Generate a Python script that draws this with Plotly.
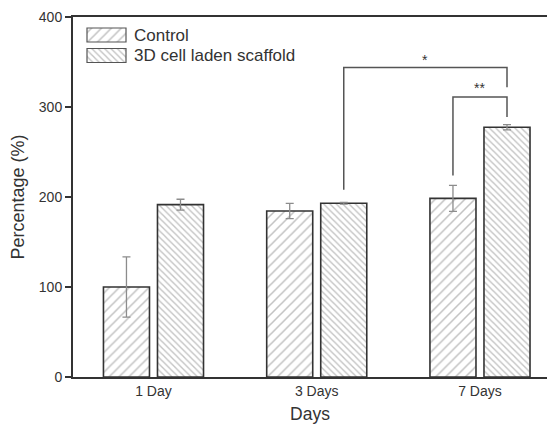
import plotly.graph_objects as go

# ---- data ----
categories = ["1 Day", "3 Days", "7 Days"]
series_names = ["Control", "3D cell laden scaffold"]
control_values = [100, 184.5, 198.5]
control_errors = [33.5, 8.5, 14.5]
scaffold_values = [191.5, 193, 277.5]
scaffold_errors = [6, 1, 3]
y_ticks = [0, 100, 200, 300, 400]

# significance brackets: (left category idx, left series idx, right category idx, right series idx,
#                         left foot, top, right foot, label, label y)
brackets = [
    (1, 1, 2, 1, 208, 344, 322, "*", 352),
    (2, 0, 2, 1, 224, 311, 289, "**", 321),
]

# ---- style ----
FONT = "Liberation Sans, Arial, sans-serif"
TXT = "#333333"
EDGE = "#333333"
HATCH = "#858585"
# page body has an 8px margin on every side, so the figure is 16px smaller to fit the window
W, H = 539, 416
ML, MR, MT, MB = 65, 0, 9, 47
BAR_W = 0.282
INNER_GAP = 0.049
SLOT = BAR_W + INNER_GAP
OFFS = [-SLOT / 2, SLOT / 2]
patterns = [dict(shape="/", size=7, solidity=0.22, fgcolor=HATCH, bgcolor="white"),
            dict(shape="\\", size=4.5, solidity=0.3, fgcolor=HATCH, bgcolor="white")]

x_idx = list(range(len(categories)))
fig = go.Figure()
for name, vals, errs, pat in zip(series_names, [control_values, scaffold_values],
                                 [control_errors, scaffold_errors], patterns):
    fig.add_trace(go.Bar(
        x=x_idx, y=vals, name=name, showlegend=False,
        marker=dict(color="white", pattern=pat, line=dict(color=EDGE, width=1.6)),
        error_y=dict(type="data", array=errs, color="#8c8c8c", thickness=1.3, width=4),
    ))

fig.update_layout(barmode="group", bargap=1 - 2 * SLOT, bargroupgap=INNER_GAP / SLOT)

# brackets
for (c1, s1, c2, s2, f1, top, f2, lab, ly) in brackets:
    x1 = c1 + OFFS[s1]
    x2 = c2 + OFFS[s2]
    fig.add_shape(type="path", xref="x", yref="y",
                  path=f"M{x1},{f1} L{x1},{top} L{x2},{top} L{x2},{f2}",
                  line=dict(color="#555555", width=1.5))
    fig.add_annotation(x=(x1 + x2) / 2, y=ly, xref="x", yref="y", text=lab,
                       showarrow=False, font=dict(family=FONT, size=14, color=TXT))

# custom legend on an overlay pixel axis
PW = W - ML - MR
PH = H - MT - MB
leg_rows = [18, 38.5]
for name, pat, ry in zip(series_names, patterns, leg_rows):
    fig.add_trace(go.Bar(
        x=[39], base=[14], y=[ry], orientation="h", width=14, xaxis="x2", yaxis="y2",
        showlegend=False, hoverinfo="skip",
        marker=dict(color="white", pattern=pat, line=dict(color="#555555", width=1.2)),
    ))
    fig.add_annotation(x=59, y=ry, xref="x2", yref="y2", text=name, showarrow=False,
                       xanchor="left", yanchor="middle",
                       font=dict(family=FONT, size=17, color=TXT))

x_left = -0.493
x_right = x_left + PW / 163.25

fig.update_layout(
    width=W, height=H,
    margin=dict(l=ML, r=MR, t=MT, b=MB, pad=0, autoexpand=False),
    plot_bgcolor="white", paper_bgcolor="white",
    font=dict(family=FONT, color=TXT),
    xaxis=dict(range=[x_left, x_right], tickvals=x_idx, ticktext=categories,
               showline=True, linecolor="#333333", linewidth=2, mirror=True,
               ticks="", showgrid=False, zeroline=False, automargin=False,
               tickfont=dict(size=14, color=TXT),
               title=dict(text="Days", font=dict(size=17.5, color=TXT), standoff=15)),
    yaxis=dict(range=[0, 400], tickvals=y_ticks, showline=True, linecolor="#333333",
               linewidth=2, ticks="outside", ticklen=6, tickwidth=1.5, tickcolor="#333333",
               showgrid=False, zeroline=False, automargin=False,
               tickfont=dict(size=14, color=TXT),
               title=dict(text="Percentage (%)", font=dict(size=18, color=TXT), standoff=11)),
    xaxis2=dict(range=[0, PW], overlaying="x", visible=False, fixedrange=True),
    yaxis2=dict(range=[PH, 0], overlaying="y", visible=False, fixedrange=True),
    showlegend=False,
)

fig.write_html("out.html")
